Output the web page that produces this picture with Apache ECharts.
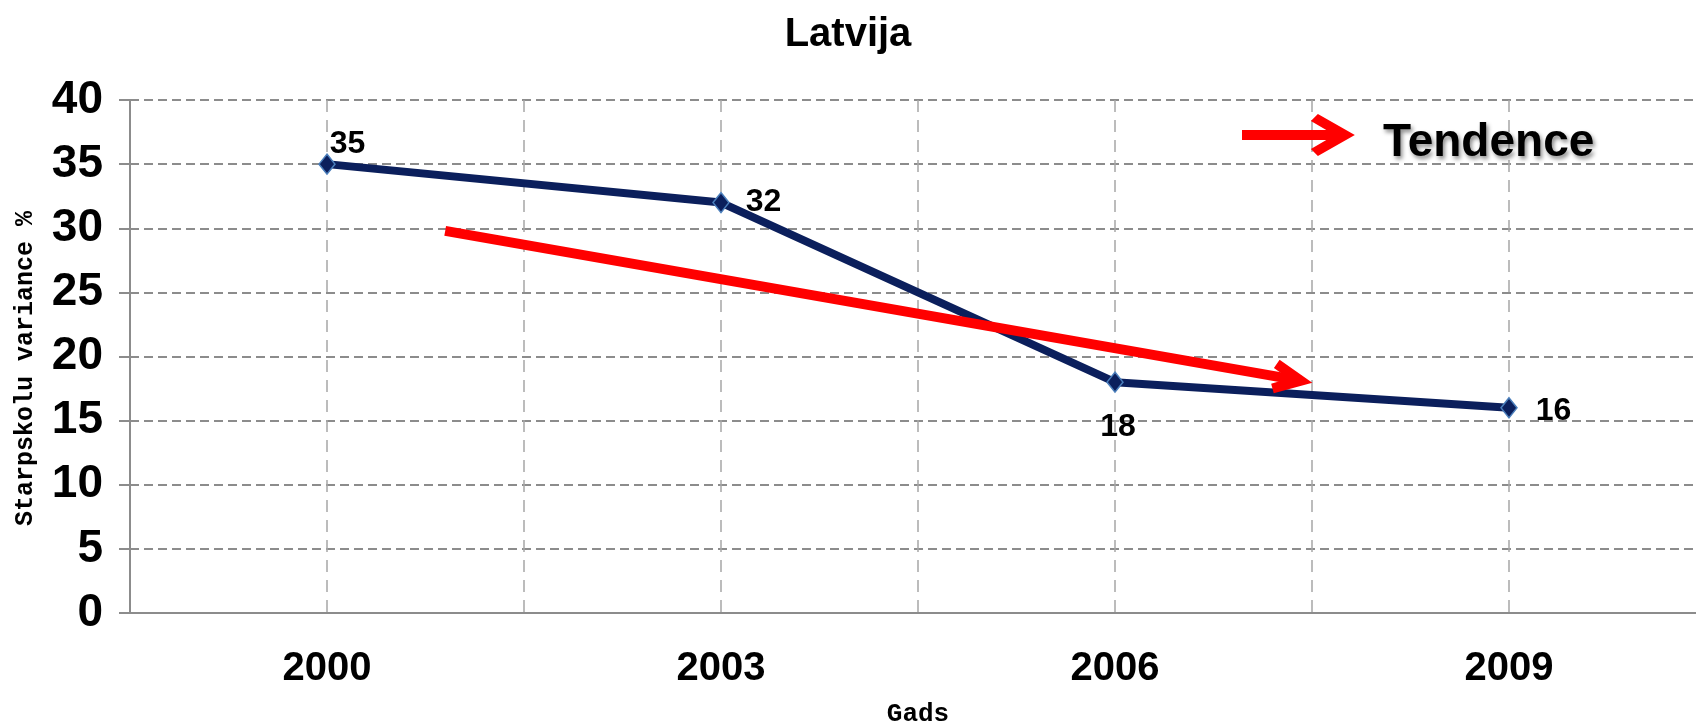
<!DOCTYPE html>
<html>
<head>
<meta charset="utf-8">
<title>Latvija</title>
<script src="https://cdn.jsdelivr.net/npm/echarts@6/dist/echarts.min.js"></script>
<style>
  html, body { margin: 0; padding: 0; background: #fff; }
  #chart { width: 1696px; height: 724px; }
</style>
</head>
<body>
<div id="chart"></div>
<script>
// data
var years = ['2000', '2003', '2006', '2009'];
var variance = [35, 32, 18, 16];
// hand drawn trend arrow (start / end, in year & % units)
var trendStart = [2000.9, 29.8];
var trendEnd = [2007.42, 18.1];

var sans = '"Liberation Sans", Arial, sans-serif';
var mono = '"Liberation Mono", "Courier New", monospace';
var navy = '#0b1f5c';
var red = '#ff0000';

// where each value label sits next to its point
var labelPlace = [
  { position: 'right', offset: [-6, -20] },
  { position: 'right', offset: [16, 0] },
  { position: 'bottom', offset: [3, 18] },
  { position: 'right', offset: [18, 3] }
];

var points = years.map(function (y, i) {
  return {
    value: [Number(y), variance[i]],
    label: labelPlace[i]
  };
});

// chevron pointing up, tip a bit above the symbol centre (line end)
var chevron = 'path://M17,18.4L34,54.6L25,58.8L17,42.4L9,58.8L0,54.6Z M17,0L17.2,0L17,0.2Z';
// legend icon: bar + chevron pointing right; invisible dots pad the box (gap before text, text a bit lower)
var legendArrow = 'path://M0,16L100,16L100,26L0,26Z M113,21L76,42L69,35L93,21L69,7L76,0Z M136,59L136.2,59L136,58.8Z';

var myChart = echarts.init(document.getElementById('chart'));
myChart.setOption({
  animation: false,
  title: {
    text: 'Latvija',
    left: 'center',
    top: 15,
    padding: 0,
    textStyle: { fontFamily: sans, fontWeight: 'bold', fontSize: 40, color: '#000' }
  },
  legend: {
    data: [{ name: 'Tendence', icon: legendArrow }],
    left: 1242,
    top: 114,
    padding: 0,
    itemWidth: 136,
    itemHeight: 59,
    itemStyle: { borderWidth: 0 },
    textStyle: {
      fontFamily: sans, fontWeight: 'bold', fontSize: 46, color: '#000',
      textShadowColor: 'rgba(0,0,0,0.45)', textShadowBlur: 4,
      textShadowOffsetX: 2, textShadowOffsetY: 3
    }
  },
  grid: {
    left: 130,
    right: -10,
    top: 100,
    bottom: 111,
    outerBoundsMode: 'none'
  },
  xAxis: {
    type: 'value',
    min: 1998.5,
    max: 2010.5,
    interval: 1.5,
    name: 'Gads',
    nameLocation: 'middle',
    nameGap: 88,
    nameTextStyle: { fontFamily: mono, fontWeight: 'bold', fontSize: 26, color: '#000' },
    axisLine: { lineStyle: { color: '#8c8c8c', width: 2 } },
    axisTick: { show: false },
    axisLabel: {
      margin: 36,
      fontFamily: sans, fontWeight: 'bold', fontSize: 40, color: '#000',
      showMinLabel: true, showMaxLabel: true,
      formatter: function (v) {
        return years.indexOf(String(v)) >= 0 ? String(v) : '';
      }
    },
    splitLine: { show: true, lineStyle: { color: '#a6a6a6', width: 1.5, type: [12, 8] } }
  },
  yAxis: {
    type: 'value',
    min: 0,
    max: 40,
    interval: 5,
    name: 'Starpskolu variance %',
    nameLocation: 'middle',
    nameGap: 92,
    nameTextStyle: {
      fontFamily: mono, fontWeight: 'bold', fontSize: 25, color: '#000',
      padding: [0, 24, 0, 0]
    },
    axisLine: { show: true, lineStyle: { color: '#8c8c8c', width: 2 } },
    axisTick: { show: true, inside: false, length: 11, lineStyle: { color: '#8c8c8c', width: 2 } },
    axisLabel: { margin: 27, fontFamily: sans, fontWeight: 'bold', fontSize: 46, color: '#000' },
    splitLine: { show: true, lineStyle: { color: '#8c8c8c', width: 2, type: [9, 5] } }
  },
  series: [
    {
      name: 'Starpskolu variance',
      type: 'line',
      data: points,
      symbol: 'diamond',
      symbolSize: [16, 20],
      lineStyle: { color: navy, width: 8 },
      itemStyle: { color: navy, borderColor: '#4a7ebb', borderWidth: 1.5 },
      label: {
        show: true,
        distance: 0,
        fontFamily: sans, fontWeight: 'bold', fontSize: 32, color: '#000',
        formatter: function (p) { return p.value[1]; }
      },
      emphasis: { disabled: true },
      z: 3
    },
    {
      name: 'Tendence',
      type: 'line',
      data: [],
      itemStyle: { color: red },
      lineStyle: { color: red, width: 10 },
      markLine: {
        silent: true,
        symbol: ['none', chevron],
        symbolSize: 40,
        label: { show: false },
        lineStyle: { color: red, width: 10, type: 'solid' },
        emphasis: { disabled: true },
        data: [[
          { coord: trendStart, symbol: 'none' },
          { coord: trendEnd, symbol: chevron, symbolSize: [34, 58.8] }
        ]]
      },
      z: 4
    }
  ]
});
</script>
</body>
</html>
